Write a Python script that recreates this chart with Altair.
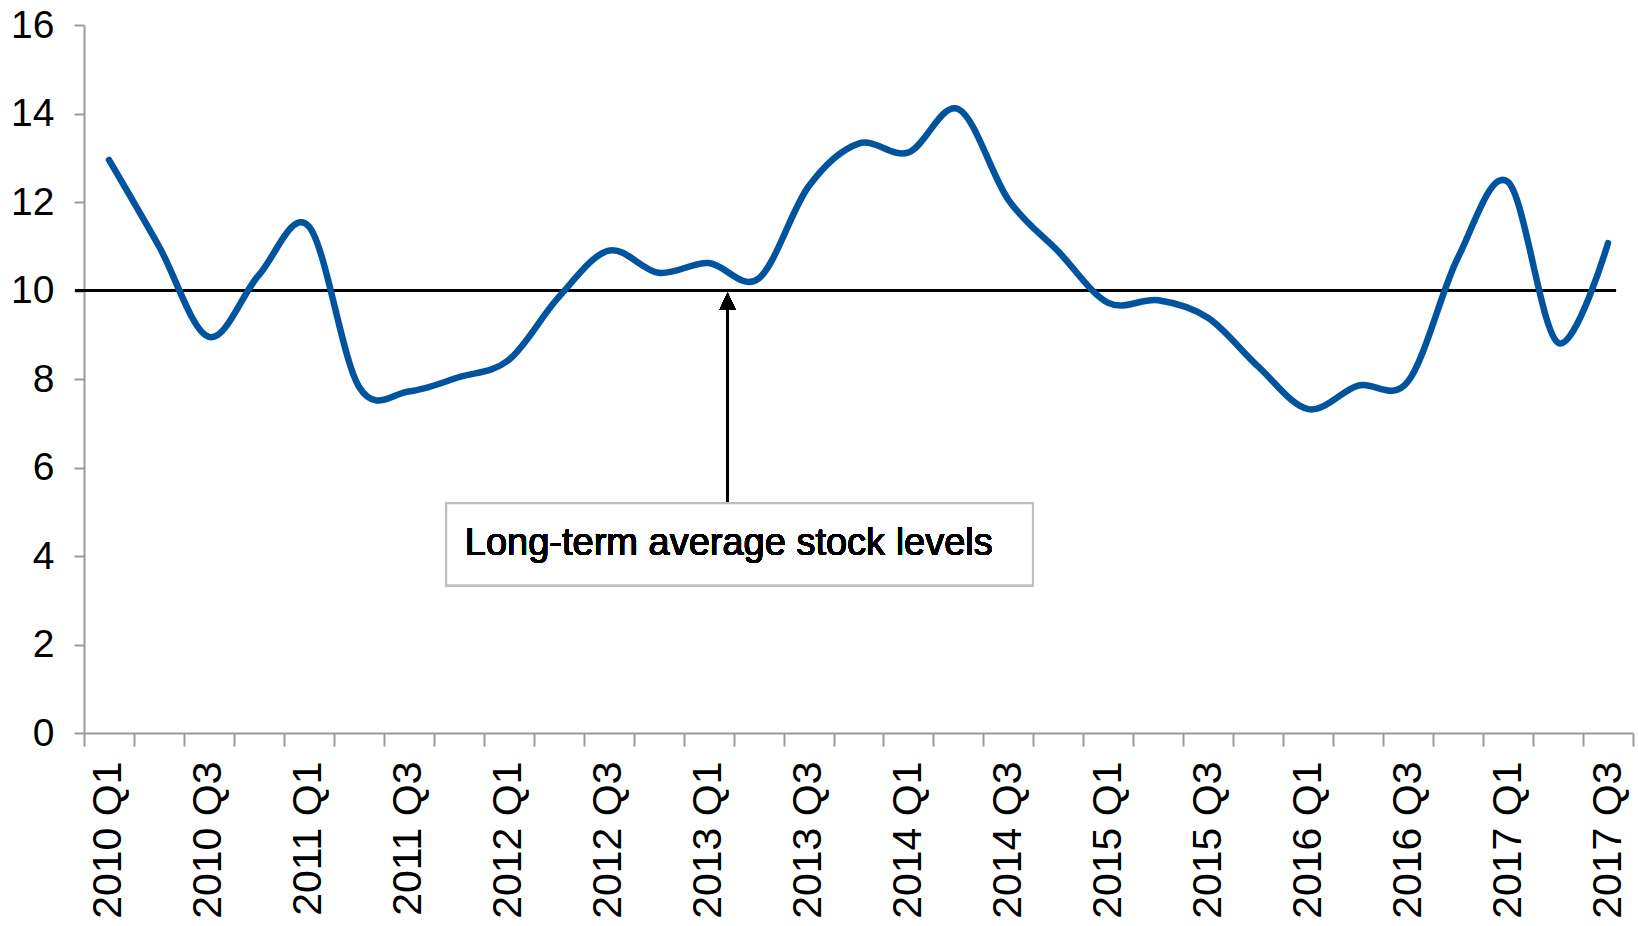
import json
import altair as alt
import pandas as pd

# Quarterly stock level series, 2010 Q1 - 2017 Q3
quarters = [
    "2010 Q1", "2010 Q2", "2010 Q3", "2010 Q4",
    "2011 Q1", "2011 Q2", "2011 Q3", "2011 Q4",
    "2012 Q1", "2012 Q2", "2012 Q3", "2012 Q4",
    "2013 Q1", "2013 Q2", "2013 Q3", "2013 Q4",
    "2014 Q1", "2014 Q2", "2014 Q3", "2014 Q4",
    "2015 Q1", "2015 Q2", "2015 Q3", "2015 Q4",
    "2016 Q1", "2016 Q2", "2016 Q3", "2016 Q4",
    "2017 Q1", "2017 Q2", "2017 Q3",
]
stock_levels = [
    12.95, 11.0, 8.95, 10.35, 11.45, 7.83, 7.72, 8.04, 8.43, 9.85,
    10.9, 10.4, 10.62, 10.27, 12.35, 13.32, 13.12, 14.1, 12.05, 10.88,
    9.72, 9.78, 9.38, 8.28, 7.32, 7.85, 7.95, 10.75, 12.45, 8.82, 11.07,
]
long_term_average = 10
note_text = "Long-term average stock levels"

# Annotation placement, in data units (quarter index / stock level)
avg_line_from, avg_line_to = -0.68, 30.16
arrow_x, arrow_base = 12.38, 9.57
box_x1, box_x2, box_y1, box_y2 = 6.75, 18.49, 5.19, 3.34
note_x, note_y = 7.12, 4.02

df = pd.DataFrame({"idx": list(range(len(quarters))), "quarter": quarters,
                   "value": stock_levels})

FONT = "Liberation Sans"
AXIS_GREY = "#9a9a9a"
x_scale = alt.Scale(domain=[-0.5, len(quarters) - 0.5], nice=False, zero=False)
y_scale = alt.Scale(domain=[0, 16], nice=False)

# bottom axis: tick marks on the boundaries between quarters
tick_axis = alt.Axis(
    orient="bottom", values=[i - 0.5 for i in range(len(quarters) + 1)],
    labels=False, grid=False, title=None, tickSize=13, tickWidth=2,
    tickColor=AXIS_GREY, domainColor=AXIS_GREY, domainWidth=2,
)
# bottom axis: rotated labels for every other quarter
label_axis = alt.Axis(
    orient="bottom", values=list(range(0, len(quarters), 2)),
    labelExpr=json.dumps(quarters) + "[datum.value]",
    ticks=False, tickSize=0, domain=False, grid=False, title=None,
    labelAngle=270, labelAlign="right", labelBaseline="middle",
    labelPadding=28, labelFont=FONT, labelFontSize=41, labelColor="black",
    labelOverlap=False, labelFlush=False,
)
y_axis = alt.Axis(
    orient="left", values=list(range(0, 17, 2)), grid=False, title=None,
    tickSize=10, tickWidth=2, tickColor=AXIS_GREY,
    domainColor=AXIS_GREY, domainWidth=2,
    labelFont=FONT, labelFontSize=39, labelColor="black", labelPadding=20,
    labelOverlap=False, labelFlush=False,
)

ticks_layer = alt.Chart(df).mark_point(opacity=0).encode(
    x=alt.X("idx:Q", scale=x_scale, axis=tick_axis),
    y=alt.Y("value:Q", scale=y_scale, axis=y_axis),
)

avg_rule = alt.Chart(df).mark_rule(color="black", strokeWidth=1.5).encode(
    x=alt.X(datum=avg_line_from, scale=x_scale, axis=None),
    x2=alt.X2(datum=avg_line_to),
    y=alt.Y(datum=long_term_average, scale=y_scale, axis=None),
)

line = alt.Chart(df).mark_line(
    color="#00539F", strokeWidth=6.5, interpolate="cardinal",
    strokeCap="round", strokeJoin="round",
).encode(
    x=alt.X("idx:Q", scale=x_scale, axis=label_axis),
    y=alt.Y("value:Q", scale=y_scale, axis=None),
)

arrow_shaft = alt.Chart(df).mark_rule(color="black", strokeWidth=2).encode(
    x=alt.X(datum=arrow_x, scale=x_scale, axis=None),
    y=alt.Y(datum=arrow_base, scale=y_scale, axis=None),
    y2=alt.Y2(datum=box_y1),
)

arrow_head = alt.Chart(df).mark_point(
    shape="M0,-1L0.94,1L-0.94,1Z", size=289, filled=True, color="black",
    opacity=1, yOffset=10.7,
).encode(
    x=alt.X(datum=arrow_x, scale=x_scale, axis=None),
    y=alt.Y(datum=long_term_average, scale=y_scale, axis=None),
)

note_box = alt.Chart(df).mark_rect(
    fill="white", stroke="#bfbfbf", strokeWidth=2,
).encode(
    x=alt.X(datum=box_x1, scale=x_scale, axis=None),
    x2=alt.X2(datum=box_x2),
    y=alt.Y(datum=box_y1, scale=y_scale, axis=None),
    y2=alt.Y2(datum=box_y2),
)

note = alt.Chart(df).mark_text(
    text=note_text, font=FONT, fontSize=38, color="black",
    align="left", baseline="alphabetic",
).encode(
    x=alt.X(datum=note_x, scale=x_scale, axis=None),
    y=alt.Y(datum=note_y, scale=y_scale, axis=None),
)

chart = alt.layer(
    ticks_layer, avg_rule, line, arrow_shaft, arrow_head, note_box, note,
).resolve_axis(x="independent", y="independent").properties(
    width=1549, height=708,
    autosize=alt.AutoSizeParams(type="none"),
    padding={"left": 84, "top": 25, "right": 5, "bottom": 193},
    background="white",
).configure_view(stroke=None)

chart.save("out.html", embed_options={"renderer": "svg", "actions": False})
